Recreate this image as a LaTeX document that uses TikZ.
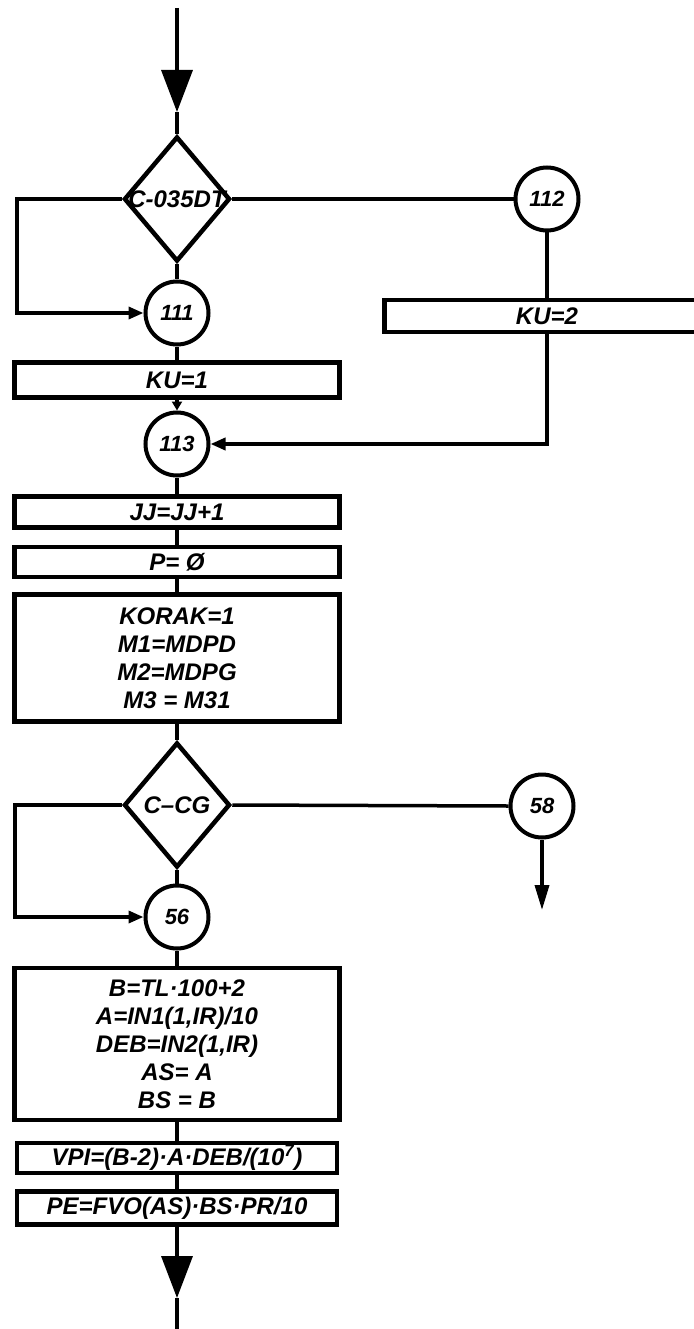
\documentclass[tikz,border=0pt]{standalone}
\usepackage{fontspec}
\setmainfont{Liberation Sans}
\usetikzlibrary{shapes.geometric,arrows.meta}

\begin{document}
\begin{tikzpicture}[x=1pt,y=-1pt,
    every node/.style={font=\fontsize{24}{28}\selectfont\bfseries\itshape},
    stmt/.style={draw,rectangle,line width=4.5pt,minimum width=325pt,inner sep=0pt,align=center},
    conn/.style={draw,circle,line width=4pt,minimum size=63pt,inner sep=0pt,font=\fontsize{22}{24}\selectfont\bfseries\itshape},
    test/.style={draw,diamond,line width=4.5pt,minimum width=106pt,minimum height=125pt,inner sep=0pt},
    flow/.style={line width=3.5pt},
    into/.style={flow,-{Triangle[length=15pt,width=12pt]}},
    tiny/.style={flow,-{Triangle[length=9pt,width=10pt]}},
    bigdown/.style={flow,-{Triangle[length=42pt,width=31pt]}},
    smalldown/.style={flow,-{Triangle[length=25pt,width=14pt]}}]
  \useasboundingbox (0,0) rectangle (693,1329);
  % first test and its two branches
  \node[test] (d1) at (177,199) {};
  \node (d1txt) at (d1) {C-035DT};
  \node[conn] (c111) at (177,313) {111};
  \node[conn] (c112) at (547,199) {112};
  \node[stmt,minimum height=32pt] (ku2) at (547,316) {KU=2};
  \node[stmt,minimum height=35pt] (ku1) at (177,380) {KU=1};
  \node[conn] (c113) at (177,444) {113};
  % main column
  \node[stmt,minimum height=31pt] (jj) at (177,512) {JJ=JJ+1};
  \node[stmt,minimum height=30pt] (pzero) at (177,562) {P= Ø};
  \node[stmt,minimum height=127pt] (korak) at (177,658) {KORAK=1\\M1=MDPD\\M2=MDPG\\M3 = M31};
  \node[test] (d2) at (177,805) {};
  \node (d2txt) at (d2) {C–CG};
  \node[conn] (c56) at (177,917) {56};
  \node[conn] (c58) at (542,806) {58};
  \node[stmt,minimum height=152pt] (calc) at (177,1044) {B=TL·100+2\\A=IN1(1,IR)/10\\DEB=IN2(1,IR)\\AS= A\\BS = B};
  \node[stmt,minimum width=320pt,minimum height=30pt] (vpi) at (177,1158) {VPI=(B-2)·A·DEB/(10\textsuperscript{7})};
  \node[stmt,minimum width=320pt,minimum height=33pt] (pe) at (177,1208) {PE=FVO(AS)·BS·PR/10};
  % free ends and bends
  \coordinate (start) at (177,8);
  \coordinate (tipa) at (177,112);
  \coordinate (lefta) at (17,199);
  \coordinate (leftb) at (15,805);
  \coordinate (out58) at (542,910);
  \coordinate (tipb) at (177,1298);
  \coordinate (finish) at (177,1329);
  % connectors
  \draw[bigdown] (start) -- (tipa);
  \draw[flow] (tipa) -- (d1.north);
  \draw[into] (d1.west) -- (lefta) |- (c111.west);
  \draw[flow] (d1.south) -- (c111.north);
  \draw[flow] (d1.east) -- (c112.west);
  \draw[flow] (c112.south) -- (ku2.north);
  \draw[into] (ku2.south) |- (c113.east);
  \draw[tiny] (ku1.south) -- (c113.north);
  \foreach \a/\b in {c111/ku1, c113/jj, jj/pzero, pzero/korak, korak/d2, c56/calc, calc/vpi, vpi/pe}
    \draw[flow] (\a.south) -- (\b.north);
  \draw[into] (d2.west) -- (leftb) |- (c56.west);
  \draw[flow] (d2.south) -- (c56.north);
  \draw[flow] (d2.east) -- (c58.west);
  \draw[smalldown] (c58.south) -- (out58);
  \draw[bigdown] (pe.south) -- (tipb);
  \draw[flow] (tipb) -- (finish);
\end{tikzpicture}
\end{document}
